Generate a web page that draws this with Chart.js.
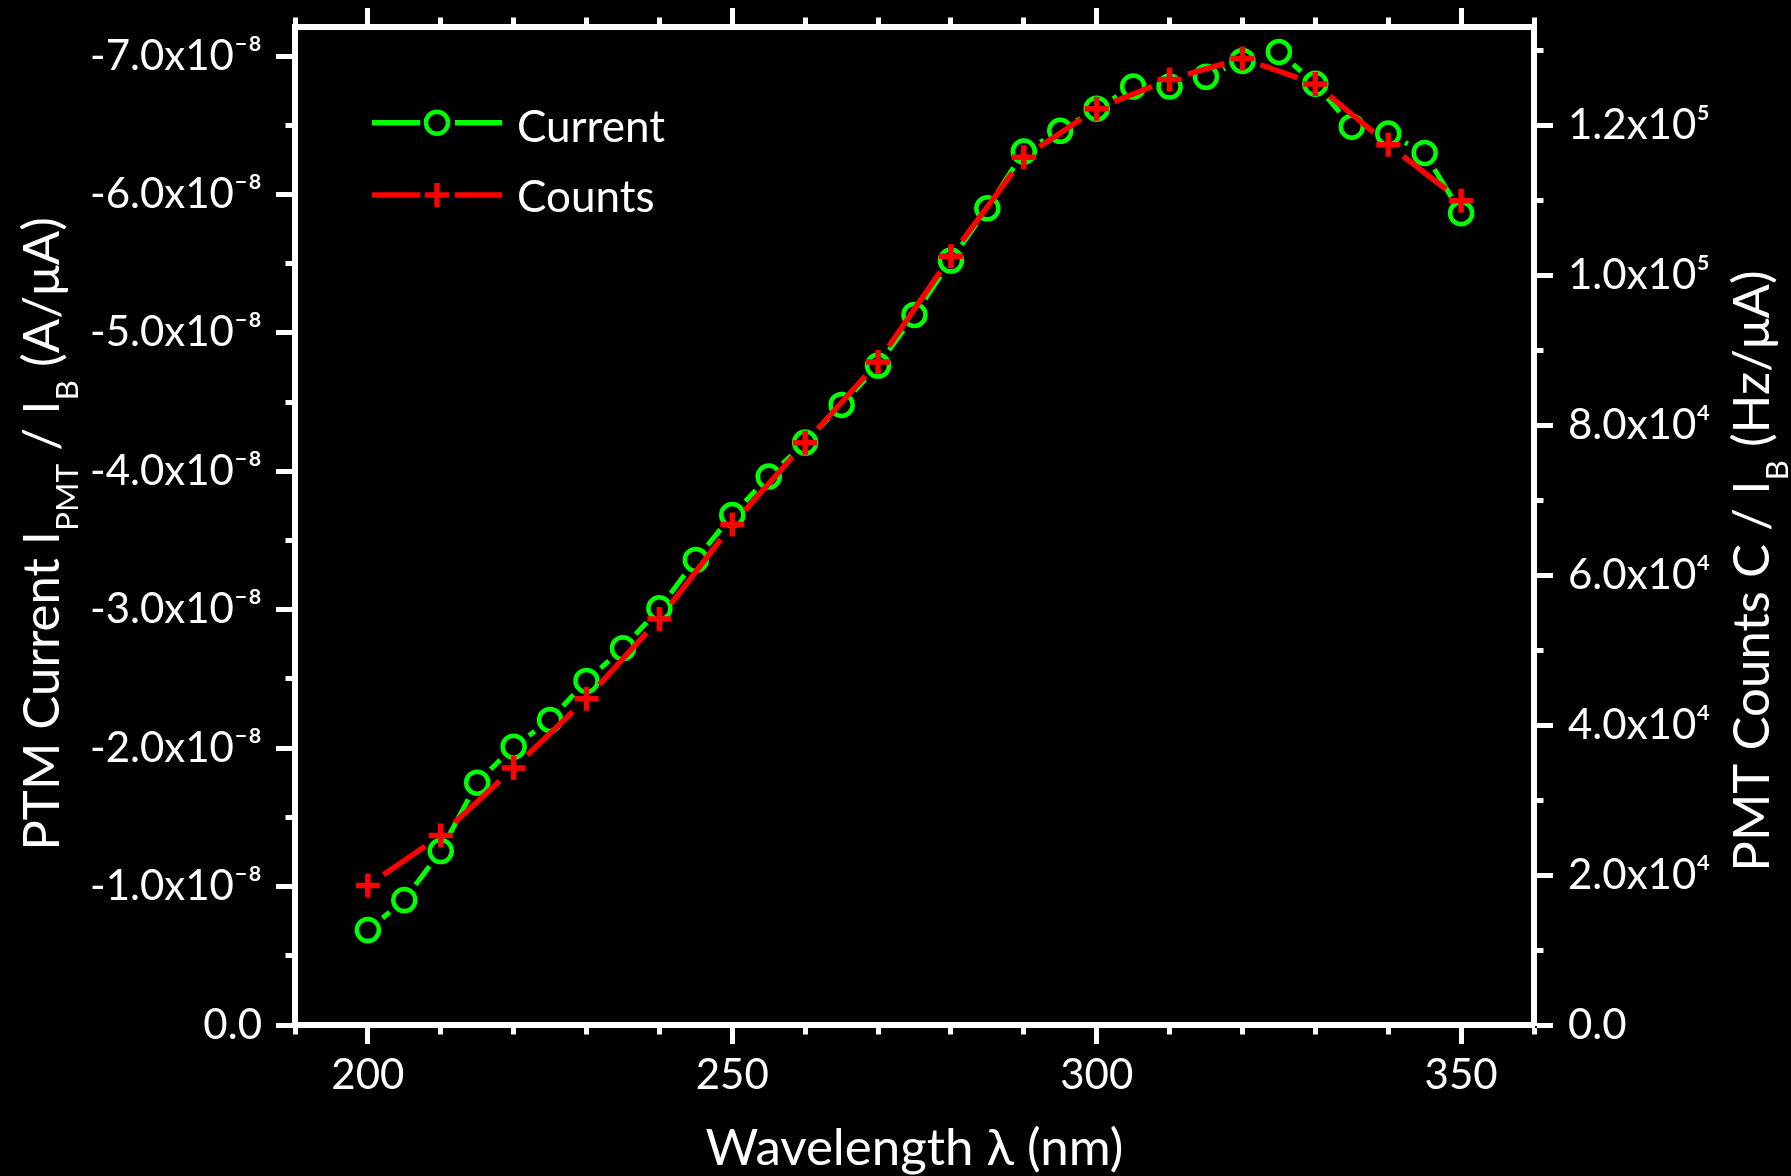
<!DOCTYPE html>
<html lang="en">
<head>
<meta charset="UTF-8">
<title>PMT Current and Counts vs Wavelength</title>
<script src="https://cdn.jsdelivr.net/npm/chart.js"></script>
<style>
  html, body { margin: 0; padding: 0; background: #000; }
  canvas { display: block; background: #000; }
</style>
</head>
<body>
<canvas id="grafico" width="1791" height="1176"></canvas>
<script>
// data
const wavelengthCurrent = [200, 205, 210, 215, 220, 225, 230, 235, 240, 245, 250, 255, 260, 265, 270, 275,
                           280, 285, 290, 295, 300, 305, 310, 315, 320, 325, 330, 335, 340, 345, 350];
const currentPerIB = [-0.686e-8, -0.903e-8, -1.257e-8, -1.751e-8, -2.011e-8, -2.204e-8, -2.486e-8, -2.722e-8,
                      -3.01e-8, -3.36e-8, -3.685e-8, -3.962e-8, -4.208e-8, -4.48e-8, -4.764e-8, -5.13e-8,
                      -5.523e-8, -5.90e-8, -6.31e-8, -6.46e-8, -6.62e-8, -6.78e-8, -6.78e-8, -6.85e-8,
                      -6.965e-8, -7.03e-8, -6.80e-8, -6.49e-8, -6.44e-8, -6.30e-8, -5.865e-8];

const wavelengthCounts = [200, 210, 220, 230, 240, 250, 260, 270, 280, 290, 300, 310, 320, 330, 340, 350];
const countsPerIB = [1.861e4, 2.529e4, 3.43e4, 4.355e4, 5.42e4, 6.68e4, 7.77e4, 8.85e4,
                     10.26e4, 11.58e4, 12.23e4, 12.62e4, 12.90e4, 12.56e4, 11.75e4, 11.00e4];

// axes
const xMajorTicks = [200, 250, 300, 350];
const xTickLabels = ['200', '250', '300', '350'];
const xMinorTicks = [190, 210, 220, 230, 240, 260, 270, 280, 290, 310, 320, 330, 340, 360];

const leftMajorTicks = [0, -1e-8, -2e-8, -3e-8, -4e-8, -5e-8, -6e-8, -7e-8];
const leftTickLabels = ['0.0', '-1.0x10⁻⁸', '-2.0x10⁻⁸', '-3.0x10⁻⁸', '-4.0x10⁻⁸', '-5.0x10⁻⁸', '-6.0x10⁻⁸', '-7.0x10⁻⁸'];
const leftMinorTicks = [-0.5e-8, -1.5e-8, -2.5e-8, -3.5e-8, -4.5e-8, -5.5e-8, -6.5e-8];

const rightMajorTicks = [0, 2e4, 4e4, 6e4, 8e4, 1e5, 1.2e5];
const rightTickLabels = ['0.0', '2.0x10⁴', '4.0x10⁴', '6.0x10⁴', '8.0x10⁴', '1.0x10⁵', '1.2x10⁵'];
const rightMinorTicks = [1e4, 3e4, 5e4, 7e4, 9e4, 1.1e5, 1.3e5];

const GREEN = '#00ff00';
const RED = '#ff0000';
const WHITE = '#ffffff';
const FONT = 'Lato, "Open Sans", sans-serif';

const TICK_LEN = 19;
const AXIS_W = 6;
const MINOR_VIS = 6.5;          // visible part of a minor tick outside the axis line
const MAJOR_VIS = TICK_LEN - AXIS_W / 2;

// ticks start at the axis for bottom/right, at the outer end for top/left
const dashFromAxis = [MINOR_VIS, 200];
const dashToAxis = [0, MAJOR_VIS - MINOR_VIS, MINOR_VIS, 200];

function setTicks(major, labels, minor) {
    return function (scale) {
        const list = major.map((v, i) => ({ value: v, big: true, text: labels ? labels[i] : '' }))
            .concat(minor.map(v => ({ value: v, big: false, text: '' })));
        list.sort((a, b) => a.value - b.value);
        scale.ticks = list;
    };
}

// fixed box sizes so the plot area lands where it is in the figure
function fijar(size) {
    return function (s) {
        if (s.isHorizontal()) s.height = size; else s.width = size;
        s.paddingTop = 0; s.paddingBottom = 0; s.paddingLeft = 0; s.paddingRight = 0;
    };
}

function gridFor(minorDash) {
    return {
        drawOnChartArea: false,
        drawTicks: true,
        tickLength: TICK_LEN,
        tickWidth: 5,
        tickColor: WHITE,
        tickBorderDash: c => (c.tick && c.tick.big) ? [] : minorDash
    };
}

const borde = { display: true, color: WHITE, width: AXIS_W };
const tickFont = { family: FONT, size: 42 };

// gaps between the line and the symbols
const GAP = 19;
function gapDash(c) {
    const L = Math.hypot(c.p1.x - c.p0.x, c.p1.y - c.p0.y);
    if (L <= 2 * GAP) return [0, L + 1];
    return [0, GAP, L - 2 * GAP, GAP];
}

// axis titles with subscripts + legend
function drawRich(ctx, parts, size) {
    const sub = size * 0.62;
    let total = 0;
    parts.forEach(p => {
        ctx.font = (p[1] ? sub : size) + 'px ' + FONT;
        p.w = ctx.measureText(p[0]).width;
        total += p.w;
    });
    let x = -total / 2;
    parts.forEach(p => {
        ctx.font = (p[1] ? sub : size) + 'px ' + FONT;
        ctx.fillText(p[0], x, p[1] ? size * 0.37 : 0);
        x += p.w;
    });
}

const decorPlugin = {
    id: 'decor',
    afterDraw(chart) {
        const ctx = chart.ctx;
        const area = chart.chartArea;
        ctx.save();
        ctx.fillStyle = WHITE;
        ctx.textBaseline = 'alphabetic';
        ctx.textAlign = 'left';

        // bottom title
        ctx.save();
        ctx.translate((area.left + area.right) / 2, 1165);
        drawRich(ctx, [['Wavelength λ (nm)', 0]], 51);
        ctx.restore();

        // left title
        ctx.save();
        ctx.translate(59, 534);
        ctx.rotate(-Math.PI / 2);
        drawRich(ctx, [['PTM Current I', 0], ['PMT', 1], [' / I', 0], ['B', 1], [' (A/μA)', 0]], 51);
        ctx.restore();

        // right title
        ctx.save();
        ctx.translate(1769, 571);
        ctx.rotate(-Math.PI / 2);
        drawRich(ctx, [['PMT Counts C / I', 0], ['B', 1], [' (Hz/μA)', 0]], 51);
        ctx.restore();

        // legend
        const rows = [
            { y: 122.7, base: 141.7, color: GREEN, text: 'Current', sym: 'circle' },
            { y: 195, base: 211.7, color: RED, text: 'Counts', sym: 'cross' }
        ];
        rows.forEach(r => {
            ctx.strokeStyle = r.color;
            ctx.lineCap = 'butt';
            ctx.lineWidth = 5.5;
            ctx.beginPath();
            ctx.moveTo(372, r.y); ctx.lineTo(420, r.y);
            ctx.moveTo(455, r.y); ctx.lineTo(502, r.y);
            ctx.stroke();
            ctx.beginPath();
            if (r.sym === 'circle') {
                ctx.lineWidth = 4.5;
                ctx.arc(437, r.y, 11, 0, Math.PI * 2);
            } else {
                ctx.lineWidth = 5.5;
                ctx.moveTo(425, r.y); ctx.lineTo(449, r.y);
                ctx.moveTo(437, r.y - 12); ctx.lineTo(437, r.y + 12);
            }
            ctx.stroke();
            ctx.font = '44px ' + FONT;
            ctx.fillText(r.text, 517, r.base);
        });
        ctx.restore();
    }
};

const ctx = document.getElementById('grafico').getContext('2d');
const grafico = new Chart(ctx, {
    type: 'line',
    data: {
        datasets: [
            {
                label: 'Current',
                data: wavelengthCurrent.map((w, i) => ({ x: w, y: currentPerIB[i] })),
                yAxisID: 'y',
                xAxisID: 'x',
                order: 1,
                borderColor: GREEN,
                borderWidth: 5,
                pointStyle: 'circle',
                pointRadius: 11,
                pointBorderWidth: 4.5,
                pointBorderColor: GREEN,
                pointBackgroundColor: 'rgba(0,0,0,0)',
                tension: 0,
                fill: false,
                segment: { borderDash: gapDash }
            },
            {
                label: 'Counts',
                data: wavelengthCounts.map((w, i) => ({ x: w, y: countsPerIB[i] })),
                yAxisID: 'y1',
                xAxisID: 'x',
                order: 0,
                borderColor: RED,
                borderWidth: 5.5,
                pointStyle: 'cross',
                pointRadius: 12,
                pointBorderWidth: 5.5,
                pointBorderColor: RED,
                pointBackgroundColor: RED,
                tension: 0,
                fill: false,
                segment: { borderDash: gapDash }
            }
        ]
    },
    options: {
        responsive: false,
        devicePixelRatio: 1,
        animation: false,
        events: [],
        layout: { padding: 0 },
        plugins: { legend: { display: false }, tooltip: { enabled: false } },
        scales: {
            x: {
                type: 'linear', position: 'bottom', min: 190, max: 360,
                afterBuildTicks: setTicks(xMajorTicks, xTickLabels, xMinorTicks),
                afterFit: fijar(151),
                ticks: { autoSkip: false, maxRotation: 0, color: WHITE, font: tickFont, padding: 6,
                         callback: (v, i, t) => t[i].text },
                grid: gridFor(dashFromAxis),
                border: borde
            },
            x2: {
                type: 'linear', position: 'top', min: 190, max: 360,
                afterBuildTicks: setTicks(xMajorTicks, null, xMinorTicks),
                afterFit: fijar(27),
                ticks: { display: false, autoSkip: false },
                grid: gridFor(dashToAxis),
                border: borde
            },
            y: {
                type: 'linear', position: 'left', min: -7.21e-8, max: 0, reverse: true,
                afterBuildTicks: setTicks(leftMajorTicks, leftTickLabels, leftMinorTicks),
                afterFit: fijar(295),
                ticks: { autoSkip: false, color: WHITE, font: tickFont, padding: 14,
                         callback: (v, i, t) => t[i].text },
                grid: gridFor(dashToAxis),
                border: borde
            },
            y1: {
                type: 'linear', position: 'right', min: 0, max: 1.332e5,
                afterBuildTicks: setTicks(rightMajorTicks, rightTickLabels, rightMinorTicks),
                afterFit: fijar(257),
                ticks: { autoSkip: false, color: WHITE, font: tickFont, padding: 15,
                         callback: (v, i, t) => t[i].text },
                grid: gridFor(dashFromAxis),
                border: borde
            }
        }
    },
    plugins: [decorPlugin]
});
</script>
</body>
</html>
